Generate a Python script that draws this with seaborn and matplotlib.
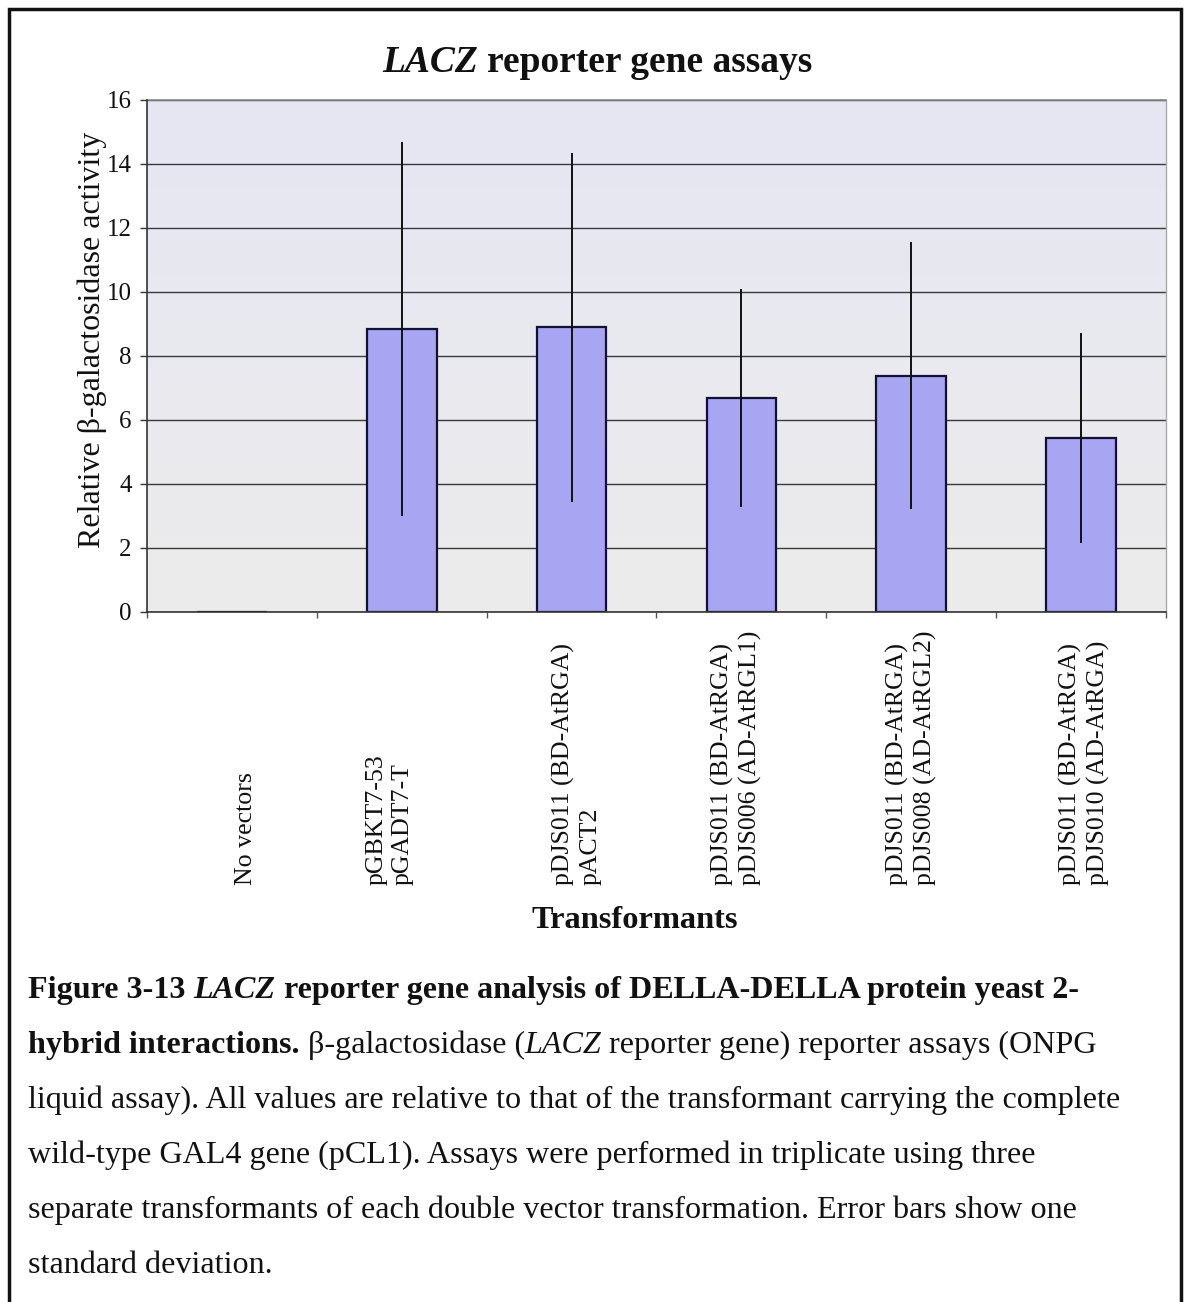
import matplotlib
matplotlib.use("Agg")
import matplotlib.pyplot as plt
import seaborn as sns
import pandas as pd
import numpy as np
from matplotlib.patches import Rectangle
import matplotlib.transforms as mtransforms

# ---------------- data ----------------
categories = [
    "No vectors",
    "pGBKT7-53\npGADT7-T",
    "pDJS011 (BD-AtRGA)\npACT2",
    "pDJS011 (BD-AtRGA)\npDJS006 (AD-AtRGL1)",
    "pDJS011 (BD-AtRGA)\npDJS008 (AD-AtRGL2)",
    "pDJS011 (BD-AtRGA)\npDJS010 (AD-AtRGA)",
]
activity = [0.0, 8.84, 8.90, 6.69, 7.38, 5.44]
std_dev = [0.0, 5.85, 5.45, 3.40, 4.17, 3.27]
y_ticks = [0, 2, 4, 6, 8, 10, 12, 14, 16]

title_parts = [("LACZ", "bold", "italic", False), ("reporter gene assays", "bold", "normal", True)]
y_label = "Relative β-galactosidase activity"
x_label = "Transformants"
caption_lines = [
    [("Figure 3-13", "bold", "normal", False), ("LACZ", "bold", "italic", True),
     ("reporter gene analysis of DELLA-DELLA protein yeast 2-", "bold", "normal", True)],
    [("hybrid interactions.", "bold", "normal", False), ("β-galactosidase (", "normal", "normal", True),
     ("LACZ", "normal", "italic", False), ("reporter gene) reporter assays (ONPG", "normal", "normal", True)],
    [("liquid assay). All values are relative to that of the transformant carrying the complete", "normal", "normal", False)],
    [("wild-type GAL4 gene (pCL1). Assays were performed in triplicate using three", "normal", "normal", False)],
    [("separate transformants of each double vector transformation. Error bars show one", "normal", "normal", False)],
    [("standard deviation.", "normal", "normal", False)],
]

df = pd.DataFrame({"Transformant": categories, "Activity": activity})

# layout-only: small horizontal nudges of the rotated category labels (in category units)
label_nudge = [0.08, -0.07, 0.03, -0.03, 0.0, 0.02]

# ---------------- figure ----------------
sns.set_theme(style="white")
SERIF = ["Liberation Serif", "DejaVu Serif"]
plt.rcParams["font.family"] = SERIF

W, H = 1184, 1302
fig = plt.figure(figsize=(W / 100, H / 100), dpi=100)
fig.patch.set_facecolor("white")

ax_l, ax_r, ax_t, ax_b = 147, 1166, 100, 612
ax = fig.add_axes([ax_l / W, 1 - ax_b / H, (ax_r - ax_l) / W, (ax_b - ax_t) / H])
ax.set_facecolor("#e9e9f0")

# subtle lavender-to-grey background of the plot area
top_c = np.array([0.902, 0.902, 0.953])
bot_c = np.array([0.925, 0.925, 0.925])
tt = np.linspace(0, 1, 256)[:, None]
grad = (top_c[None, :] * (1 - tt) + bot_c[None, :] * tt)[:, None, :]
ax.imshow(grad, extent=[-0.5, len(categories) - 0.5, 0, 16], aspect="auto",
          origin="upper", zorder=0, interpolation="bilinear")

sns.barplot(data=df, x="Transformant", y="Activity", color="#a8a5f2",
            edgecolor="#111133", linewidth=1.6, width=0.41, saturation=1,
            ax=ax, zorder=3)
pos = np.arange(len(categories))
ax.errorbar(pos[1:], activity[1:], yerr=std_dev[1:], fmt="none",
            ecolor="#111111", elinewidth=1.4, capsize=0, zorder=4)

ax.set_ylim(0, 16)
ax.set_xlim(-0.5, len(categories) - 0.5)
ax.set_yticks(y_ticks)
ax.set_yticklabels([str(t) for t in y_ticks], fontsize=18, family=SERIF, color="#111111")
ax.yaxis.grid(True, color="#3a3a3a", linewidth=1.0)
ax.set_axisbelow(True)
for gl in ax.get_ygridlines():
    gl.set_zorder(1)
ax.tick_params(axis="y", length=5, width=1, color="#333333", pad=6, left=True)
ax.set_xticks(np.arange(len(categories) + 1) - 0.5)
ax.set_xticklabels([])
ax.tick_params(axis="x", length=4, width=1, color="#555555", bottom=True)
ax.set_xlabel("")
ax.set_ylabel("")
for s in ["left", "bottom"]:
    ax.spines[s].set_color("#333333")
    ax.spines[s].set_linewidth(1.2)
    ax.spines[s].set_zorder(5)
ax.spines["top"].set_color("#888888")
ax.spines["right"].set_color("#aaaaaa")
ax.spines["top"].set_linewidth(1.2)
ax.spines["right"].set_linewidth(1.0)

# category labels, rotated and anchored at bottom
trans = mtransforms.blended_transform_factory(ax.transData, fig.transFigure)
for i, lab in enumerate(categories):
    ax.text(i + label_nudge[i], 1 - 885 / H, lab, rotation=90, ha="center", va="bottom",
            multialignment="left", fontsize=18.6, family=SERIF, transform=trans,
            linespacing=1.25, color="#111111")

# y label
fig.text(92 / W, 1 - 340 / H, y_label, rotation=90, ha="center", va="center",
         fontsize=23, family=SERIF, color="#111111")
# x label
fig.text(635 / W, 1 - 920 / H, x_label, ha="center", va="center",
         fontsize=23.3, weight="bold", family=SERIF, color="#111111")

# rich text helper
fig.canvas.draw()
renderer = fig.canvas.get_renderer()


def text_width(s, size, weight, style):
    t = fig.text(0, 0, s, fontsize=size, weight=weight, style=style, family=SERIF)
    w = t.get_window_extent(renderer).width
    t.remove()
    return w


def rich_line(x, y, parts, size, ha="left"):
    widths = []
    total = 0
    for s, wt, st, sp in parts:
        spw = 0
        if sp:
            spw = text_width("a a", size, wt, st) - text_width("aa", size, wt, st)
        w = text_width(s, size, wt, st)
        widths.append((spw, w))
        total += spw + w
    cx = x - total / 2 if ha == "center" else x
    for (s, wt, st, sp), (spw, w) in zip(parts, widths):
        cx += spw
        fig.text(cx / W, 1 - y / H, s, fontsize=size, weight=wt, style=st,
                 family=SERIF, ha="left", va="baseline", color="#111111")
        cx += w


rich_line(597, 72, title_parts, 27, ha="center")

baselines = [998, 1053, 1108, 1163, 1218, 1273]
for parts, yb in zip(caption_lines, baselines):
    rich_line(28, yb, parts, 23.1)

# outer frame
fig.patches.append(Rectangle((9 / W, -0.05), (1181 - 9) / W, 1.05 - 9 / H,
                             transform=fig.transFigure, fill=False,
                             edgecolor="#111111", linewidth=2.5, zorder=10))

fig.savefig("out.png", dpi=100, facecolor="white")
